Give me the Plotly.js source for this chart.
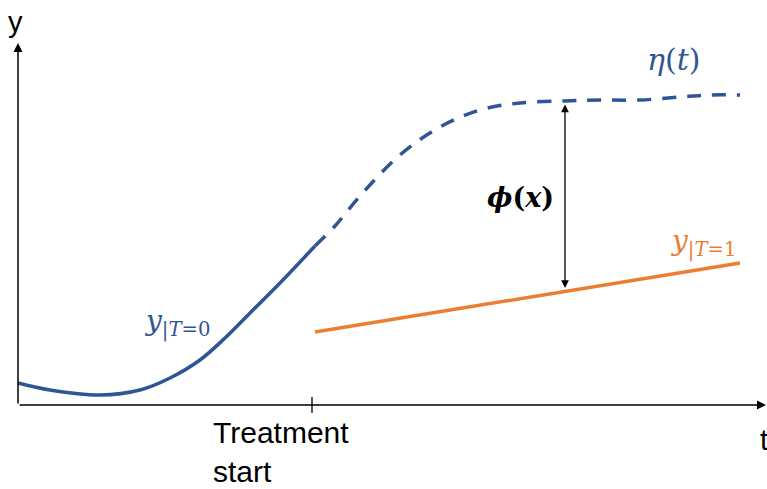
<!DOCTYPE html>
<html>
<head>
<meta charset="utf-8">
<script src="https://cdn.plot.ly/plotly-3.0.1.min.js"></script>
<style>html,body{margin:0;padding:0;background:#fff;}#chart{width:767px;height:489px;}</style>
</head>
<body>
<div id="chart"></div>
<script>
// Untreated outcome before treatment start (solid)
const untreatedX = [18, 50, 100, 140, 170, 200, 225, 250, 280, 315];
const untreatedY = [106, 99, 94, 99, 111, 129, 151, 176, 206, 243];
// Counterfactual continuation eta(t) (dashed)
const etaX = [315, 335, 360, 400, 440, 480, 520, 565, 600, 640, 680, 710, 740];
const etaY = [243, 263, 293, 334, 362, 379, 386, 388, 389, 389, 392, 394, 394];
// Treated outcome (orange)
const treatedX = [315, 740];
const treatedY = [157, 226];
// Effect arrow
const effectX = 565;
const effectTop = 386;
const effectBottom = 201;
// Axes geometry
const originX = 18, originY = 84, yAxisTop = 446, xAxisEnd = 766;
const treatmentStartX = 312;

const blue = '#2F5597';
const orange = '#ED7D31';
const serif = 'DejaVu Serif, Liberation Serif, serif';
const sans = 'Liberation Sans, Arial, sans-serif';

const traces = [
  {x: untreatedX, y: untreatedY, mode: 'lines', line: {color: blue, width: 3.5, shape: 'spline'}, hoverinfo: 'skip'},
  {x: etaX, y: etaY, mode: 'lines', line: {color: blue, width: 3.5, dash: '14px,11px', shape: 'spline'}, hoverinfo: 'skip'},
  {x: treatedX, y: treatedY, mode: 'lines', line: {color: orange, width: 3.5}, hoverinfo: 'skip'}
];

const layout = {
  width: 767, height: 489,
  margin: {l: 0, r: 0, t: 0, b: 0},
  paper_bgcolor: '#fff', plot_bgcolor: '#fff',
  showlegend: false,
  xaxis: {range: [0, 767], visible: false, fixedrange: true},
  yaxis: {range: [0, 489], visible: false, fixedrange: true},
  shapes: [
    {type: 'line', xref: 'x', yref: 'y', x0: treatmentStartX, x1: treatmentStartX, y0: originY - 8, y1: originY + 8, line: {color: '#000', width: 1.3}}
  ],
  annotations: [
    // y axis with arrow
    {x: originX, y: yAxisTop, ax: originX, ay: originY, xref: 'x', yref: 'y', axref: 'x', ayref: 'y', text: '', showarrow: true, arrowhead: 2, arrowsize: 1.2, arrowwidth: 1.5, arrowcolor: '#000', standoff: 0},
    // x axis with arrow
    {x: xAxisEnd, y: originY, ax: originX, ay: originY, xref: 'x', yref: 'y', axref: 'x', ayref: 'y', text: '', showarrow: true, arrowhead: 2, arrowsize: 1.2, arrowwidth: 1.5, arrowcolor: '#000', standoff: 0},
    // effect double arrow
    {x: effectX, y: effectBottom, ax: effectX, ay: effectTop, xref: 'x', yref: 'y', axref: 'x', ayref: 'y', text: '', showarrow: true, arrowhead: 2, startarrowhead: 2, arrowside: 'end+start', arrowsize: 1.2, startarrowsize: 1.2, arrowwidth: 1.3, arrowcolor: '#000', standoff: 0, startstandoff: 0},
    // labels
    {x: 15, y: 467, xref: 'x', yref: 'y', text: 'y', showarrow: false, font: {family: sans, size: 29, color: '#000'}},
    {x: 764, y: 49, xref: 'x', yref: 'y', text: 't', showarrow: false, font: {family: sans, size: 29, color: '#000'}},
    {x: 211, y: 37, xref: 'x', yref: 'y', xanchor: 'left', align: 'left', text: 'Treatment<br>start', showarrow: false, font: {family: sans, size: 30, color: '#000'}},
    {x: 673, y: 430, xref: 'x', yref: 'y', text: '<i>η</i>(<i>t</i>)', showarrow: false, font: {family: serif, size: 30, color: blue}},
    {x: 520, y: 292, xref: 'x', yref: 'y', text: '<b><i>ϕ</i>(<i>x</i>)</b>', showarrow: false, font: {family: serif, size: 27, color: '#000'}},
    {x: 177, y: 166, xref: 'x', yref: 'y', text: '<i>y</i><sub>|<i>T</i>=0</sub>', showarrow: false, font: {family: serif, size: 28, color: blue}},
    {x: 703, y: 246, xref: 'x', yref: 'y', text: '<i>y</i><sub>|<i>T</i>=1</sub>', showarrow: false, font: {family: serif, size: 28, color: orange}}
  ]
};

Plotly.newPlot('chart', traces, layout, {displayModeBar: false, staticPlot: true});
</script>
</body>
</html>
